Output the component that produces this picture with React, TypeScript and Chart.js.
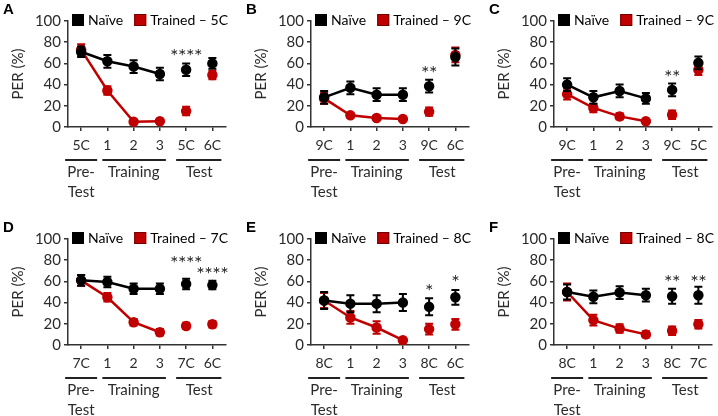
import React, { useEffect, useRef } from 'react';
import { Chart, registerables } from 'chart.js';
Chart.register(...registerables);

const FONT = 'Lato, "Open Sans", sans-serif';
const TEXT = '#2b2b2b';
const BLACK = '#000000';
const RED = '#c00000';

// ---- data ----
const categoriesA = ['5C', '1', '2', '3', '5C', '6C'];
const naiveA = [71, 62, 57, 50, 54, 60];
const naiveErrA = [5, 6, 6, 6, 6, 5];
const trainedA = [73, 34.5, 5, 5.5, 15, 49];
const trainedErrA = [5, 4, 1, 1, 4, 4];
const starsA = ['', '', '', '', '****', ''];
const starLevelA = [0, 0, 0, 0, 72, 0];

const categoriesB = ['9C', '1', '2', '3', '9C', '6C'];
const naiveB = [28, 37, 30.5, 30.5, 38.5, 66];
const naiveErrB = [6, 6, 6, 6, 6, 8];
const trainedB = [27, 11, 8.5, 7.5, 14.5, 68];
const trainedErrB = [5, 2, 2, 1, 4, 7];
const starsB = ['', '', '', '', '**', ''];
const starLevelB = [0, 0, 0, 0, 56, 0];

const categoriesC = ['9C', '1', '2', '3', '9C', '5C'];
const naiveC = [40, 28, 34, 27, 35, 60.5];
const naiveErrC = [6, 6, 6, 5, 6, 6];
const trainedC = [31, 18, 10, 5.5, 11.5, 54];
const trainedErrC = [5, 4, 3, 1, 4, 5];
const starsC = ['', '', '', '', '**', ''];
const starLevelC = [0, 0, 0, 0, 52, 0];

const categoriesD = ['7C', '1', '2', '3', '7C', '6C'];
const naiveD = [61, 59.5, 53, 53, 57.5, 56.5];
const naiveErrD = [5, 5, 5, 5, 5, 4];
const trainedD = [61, 45, 21.5, 12, 18, 19.5];
const trainedErrD = [5, 4, 3, 3, 3, 3];
const starsD = ['', '', '', '', '****', '****'];
const starLevelD = [0, 0, 0, 0, 82, 72];

const categoriesE = ['8C', '1', '2', '3', '8C', '6C'];
const naiveE = [42, 39, 39, 40, 36, 45];
const naiveErrE = [8, 8, 8, 8, 8, 7];
const trainedE = [42, 26, 16.5, 4.5, 15, 19.5];
const trainedErrE = [7, 6, 6, 1, 5, 5];
const starsE = ['', '', '', '', '*', '*'];
const starLevelE = [0, 0, 0, 0, 56, 64];

const categoriesF = ['8C', '1', '2', '3', '8C', '7C'];
const naiveF = [50, 45.5, 49.5, 47, 46, 47];
const naiveErrF = [7, 6, 6, 6, 7, 8];
const trainedF = [50, 23.5, 15.5, 10, 13.5, 19.5];
const trainedErrF = [8, 5, 4, 3, 4, 4];
const starsF = ['', '', '', '', '**', '**'];
const starLevelF = [0, 0, 0, 0, 64.5, 64.5];

const yTicks = [0, 20, 40, 60, 80, 100];
const naiveLabel = 'Naïve';
const groupLabels = ['Pre-', 'Training', 'Test'];

type Panel = {
  letter: string; left: number; top: number;
  categories: string[]; naive: number[]; naiveErr: number[];
  trained: number[]; trainedErr: number[]; trainedLabel: string;
  stars: string[]; starLevel: number[];
};

const panels: Panel[] = [
  { letter: 'A', left: 0, top: 0, categories: categoriesA, naive: naiveA, naiveErr: naiveErrA, trained: trainedA, trainedErr: trainedErrA, trainedLabel: 'Trained – 5C', stars: starsA, starLevel: starLevelA },
  { letter: 'B', left: 243, top: 0, categories: categoriesB, naive: naiveB, naiveErr: naiveErrB, trained: trainedB, trainedErr: trainedErrB, trainedLabel: 'Trained – 9C', stars: starsB, starLevel: starLevelB },
  { letter: 'C', left: 486, top: 0, categories: categoriesC, naive: naiveC, naiveErr: naiveErrC, trained: trainedC, trainedErr: trainedErrC, trainedLabel: 'Trained – 9C', stars: starsC, starLevel: starLevelC },
  { letter: 'D', left: 0, top: 218, categories: categoriesD, naive: naiveD, naiveErr: naiveErrD, trained: trainedD, trainedErr: trainedErrD, trainedLabel: 'Trained – 7C', stars: starsD, starLevel: starLevelD },
  { letter: 'E', left: 243, top: 218, categories: categoriesE, naive: naiveE, naiveErr: naiveErrE, trained: trainedE, trainedErr: trainedErrE, trainedLabel: 'Trained – 8C', stars: starsE, starLevel: starLevelE },
  { letter: 'F', left: 486, top: 218, categories: categoriesF, naive: naiveF, naiveErr: naiveErrF, trained: trainedF, trainedErr: trainedErrF, trainedLabel: 'Trained – 8C', stars: starsF, starLevel: starLevelF },
];

const W = 232;
const H = 208;

function PanelChart({ p }: { p: Panel }) {
  const ref = useRef<HTMLCanvasElement | null>(null);
  useEffect(() => {
    if (!ref.current) return;
    const errs = [p.naiveErr, p.trainedErr];
    const colors = [BLACK, RED];

    const decor = {
      id: 'decor',
      beforeDatasetDraw(chart: any, args: any) {
        const ctx = chart.ctx;
        const y = chart.scales.y;
        const ds = chart.data.datasets[args.index];
        const e = errs[args.index];
        ctx.save();
        ctx.strokeStyle = colors[args.index];
        ctx.lineWidth = 2;
        args.meta.data.forEach((pt: any, i: number) => {
          const v = ds.data[i];
          const y1 = y.getPixelForValue(v + e[i]);
          const y2 = y.getPixelForValue(Math.max(0, v - e[i]));
          ctx.beginPath();
          ctx.moveTo(pt.x, y1); ctx.lineTo(pt.x, y2);
          ctx.moveTo(pt.x - 4, y1); ctx.lineTo(pt.x + 4, y1);
          ctx.moveTo(pt.x - 4, y2); ctx.lineTo(pt.x + 4, y2);
          ctx.stroke();
        });
        ctx.restore();
      },
      afterDraw(chart: any) {
        const ctx = chart.ctx;
        const area = chart.chartArea;
        const x = chart.scales.x;
        const y = chart.scales.y;
        ctx.save();
        // panel letter
        ctx.fillStyle = BLACK;
        ctx.font = 'bold 15px "Liberation Sans", Arial, sans-serif';
        ctx.textBaseline = 'top';
        ctx.textAlign = 'left';
        ctx.fillText(p.letter, 3, 2);
        // y title
        ctx.save();
        ctx.translate(18, (area.top + area.bottom) / 2);
        ctx.rotate(-Math.PI / 2);
        ctx.font = '15px ' + FONT;
        ctx.fillStyle = TEXT;
        ctx.textAlign = 'center';
        ctx.textBaseline = 'middle';
        ctx.fillText('PER (%)', 0, 0);
        ctx.restore();
        // legend
        ctx.font = '14px ' + FONT;
        ctx.textBaseline = 'middle';
        ctx.textAlign = 'left';
        let lx = area.left + 4;
        const ly = 14;
        ctx.fillStyle = BLACK;
        ctx.fillRect(lx, ly, 12, 12);
        lx += 16;
        ctx.fillStyle = BLACK;
        ctx.fillText(naiveLabel, lx, ly + 6.5);
        lx += ctx.measureText(naiveLabel).width + 11;
        ctx.fillStyle = RED;
        ctx.fillRect(lx, ly, 12, 12);
        ctx.strokeStyle = '#700000';
        ctx.lineWidth = 1;
        ctx.strokeRect(lx + 0.5, ly + 0.5, 11, 11);
        lx += 16;
        ctx.fillStyle = BLACK;
        ctx.fillText(p.trainedLabel, lx, ly + 6.5);
        // stars
        ctx.fillStyle = TEXT;
        ctx.font = '20px ' + FONT;
        ctx.textAlign = 'center';
        ctx.textBaseline = 'alphabetic';
        p.stars.forEach((s, i) => {
          if (!s) return;
          const cx = x.getPixelForValue(i);
          const cy = y.getPixelForValue(p.starLevel[i]);
          const n = s.length;
          for (let k = 0; k < n; k++) {
            ctx.fillText('*', cx + (k - (n - 1) / 2) * 8, cy + 12);
          }
        });
        // group lines and labels
        const c = (i: number) => x.getPixelForValue(i);
        const gy = 160;
        const groups = [
          [c(0) - 16, c(0) + 16],
          [c(1) - 5, c(3) + 6],
          [c(4) - 10, c(5) + 9],
        ];
        ctx.strokeStyle = '#222222';
        ctx.lineWidth = 2;
        groups.forEach(([a, b]) => {
          ctx.beginPath();
          ctx.moveTo(a, gy); ctx.lineTo(b, gy);
          ctx.stroke();
        });
        ctx.fillStyle = TEXT;
        ctx.font = '15px ' + FONT;
        ctx.textAlign = 'center';
        ctx.textBaseline = 'middle';
        ctx.fillText(groupLabels[0], c(0), 172);
        ctx.fillText('Test', c(0), 192);
        ctx.fillText(groupLabels[1], (c(1) + c(3)) / 2, 172);
        ctx.fillText(groupLabels[2], (c(4) + c(5)) / 2, 172);
        ctx.restore();
      },
    };

    const seg = (color: string) => ({
      borderColor: (ctx: any) => (ctx.p0DataIndex >= 3 ? 'rgba(0,0,0,0)' : color),
    });

    const chart = new Chart(ref.current, {
      type: 'line',
      data: {
        labels: p.categories,
        datasets: [
          {
            label: naiveLabel, data: p.naive, borderColor: BLACK, backgroundColor: BLACK,
            pointBackgroundColor: BLACK, pointBorderColor: BLACK, pointRadius: 4, borderWidth: 2.5,
            segment: seg(BLACK) as any,
          },
          {
            label: p.trainedLabel, data: p.trained, borderColor: RED, backgroundColor: RED,
            pointBackgroundColor: RED, pointBorderColor: RED, pointRadius: 4, borderWidth: 2.5,
            segment: seg(RED) as any,
          },
        ],
      },
      options: {
        responsive: false,
        animation: false,
        layout: { padding: { top: 21, right: 4, left: 0, bottom: 0 } },
        plugins: { legend: { display: false }, tooltip: { enabled: false } },
        scales: {
          x: {
            type: 'category',
            offset: true,
            grid: { offset: false, drawOnChartArea: false, drawTicks: true, tickLength: 4, color: '#333333', lineWidth: 1.5 },
            border: { color: '#333333', width: 1.5 },
            ticks: { color: TEXT, font: { size: 14, family: FONT }, padding: 6, maxRotation: 0, autoSkip: false },
            afterFit: (s: any) => { s.height = 81; },
          },
          y: {
            min: 0, max: 100,
            afterBuildTicks: (s: any) => { s.ticks = yTicks.map((v) => ({ value: v })); },
            grid: { drawOnChartArea: false, drawTicks: true, tickLength: 4, color: '#333333', lineWidth: 1.5 },
            border: { color: '#333333', width: 1.5 },
            ticks: { color: TEXT, font: { size: 15, family: FONT }, padding: 3 },
            afterFit: (s: any) => { s.width = 68; },
          },
        },
      },
      plugins: [decor],
    });
    return () => chart.destroy();
  }, [p]);
  return (
    <div style={{ position: 'absolute', left: p.left, top: p.top, width: W, height: H }}>
      <canvas ref={ref} width={W} height={H} style={{ width: W, height: H, display: 'block' }} />
    </div>
  );
}

export default function App() {
  return (
    <div style={{ position: 'absolute', left: 0, top: 0, width: 718, height: 416, background: '#fff', overflow: 'hidden' }}>
      {panels.map((p) => (
        <PanelChart key={p.letter} p={p} />
      ))}
    </div>
  );
}
